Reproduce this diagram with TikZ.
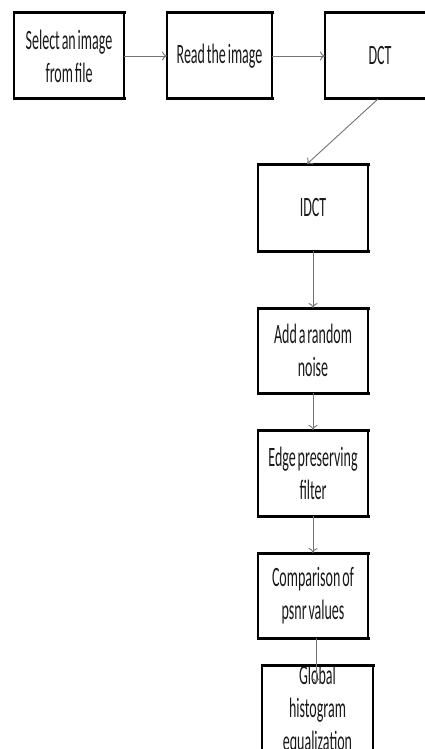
\documentclass[tikz,border=0pt]{standalone}
\usepackage{fontspec}
\setmainfont[WordSpace={0.6,0,0}]{Carlito}
\usepackage{graphicx}
\usetikzlibrary{arrows.meta,calc}
\newcommand\sq[1]{\scalebox{0.5}[1]{#1}}
\tikzset{
  box/.style={draw=black, line width=1.6pt, rectangle, minimum width=110pt, minimum height=86pt,
    inner sep=0pt, outer sep=0pt, align=center, font=\fontsize{28}{33}\selectfont, text=black!90},
  edgeline/.style={line width=3pt, draw=black, line cap=rect},
  conn/.style={draw=black!55, line width=0.9pt, -{To[length=5pt,width=9pt]}},
}
\begin{document}
\begin{tikzpicture}[x=1pt,y=-1pt]
\useasboundingbox (0,0) rectangle (424,749);
\node[box] (sel) at (69,56) {\sq{Select an image}\\\sq{from file}};
\node[box, minimum width=105pt] (read) at (219.5,56) {\sq{Read the image}};
\node[box] (dct) at (380,56) {\sq{DCT}};
\node[box, minimum height=87pt] (idct) at (313,207.5) {\sq{IDCT}};
\node[box, minimum height=85pt] (noise) at (313,350.5) {\sq{Add a random}\\\sq{noise}};
\node[box] (edge) at (313,473) {\sq{Edge preserving}\\\sq{filter}};
\node[box, minimum height=85pt] (comp) at (313,595.5) {\sq{Comparison of}\\\sq{psnr values}};
\node[box, minimum width=111pt] (glob) at (317.5,710) {\sq{Global}\\\sq{histogram}\\\sq{equalization}};
\foreach \n in {sel,read,dct,idct,noise,edge,comp,glob}{
  \draw[edgeline] (\n.north west) -- (\n.north east);
  \draw[edgeline] (\n.south west) -- (\n.south east);
}
\coordinate (gtip) at (316,683);
\draw[conn] (sel.east) -- (read.west);
\draw[conn] (read.east) -- (dct.west);
\draw[conn] ($(dct.south)+(-2,0)$) -- ($(idct.north)+(-6,0)$);
\draw[conn] (idct.south) -- (noise.north);
\draw[conn] (noise.south) -- (edge.north);
\draw[conn] (edge.south) -- (comp.north);
\draw[conn] ($(comp.south)+(3,0)$) -- (gtip);
\end{tikzpicture}
\end{document}
